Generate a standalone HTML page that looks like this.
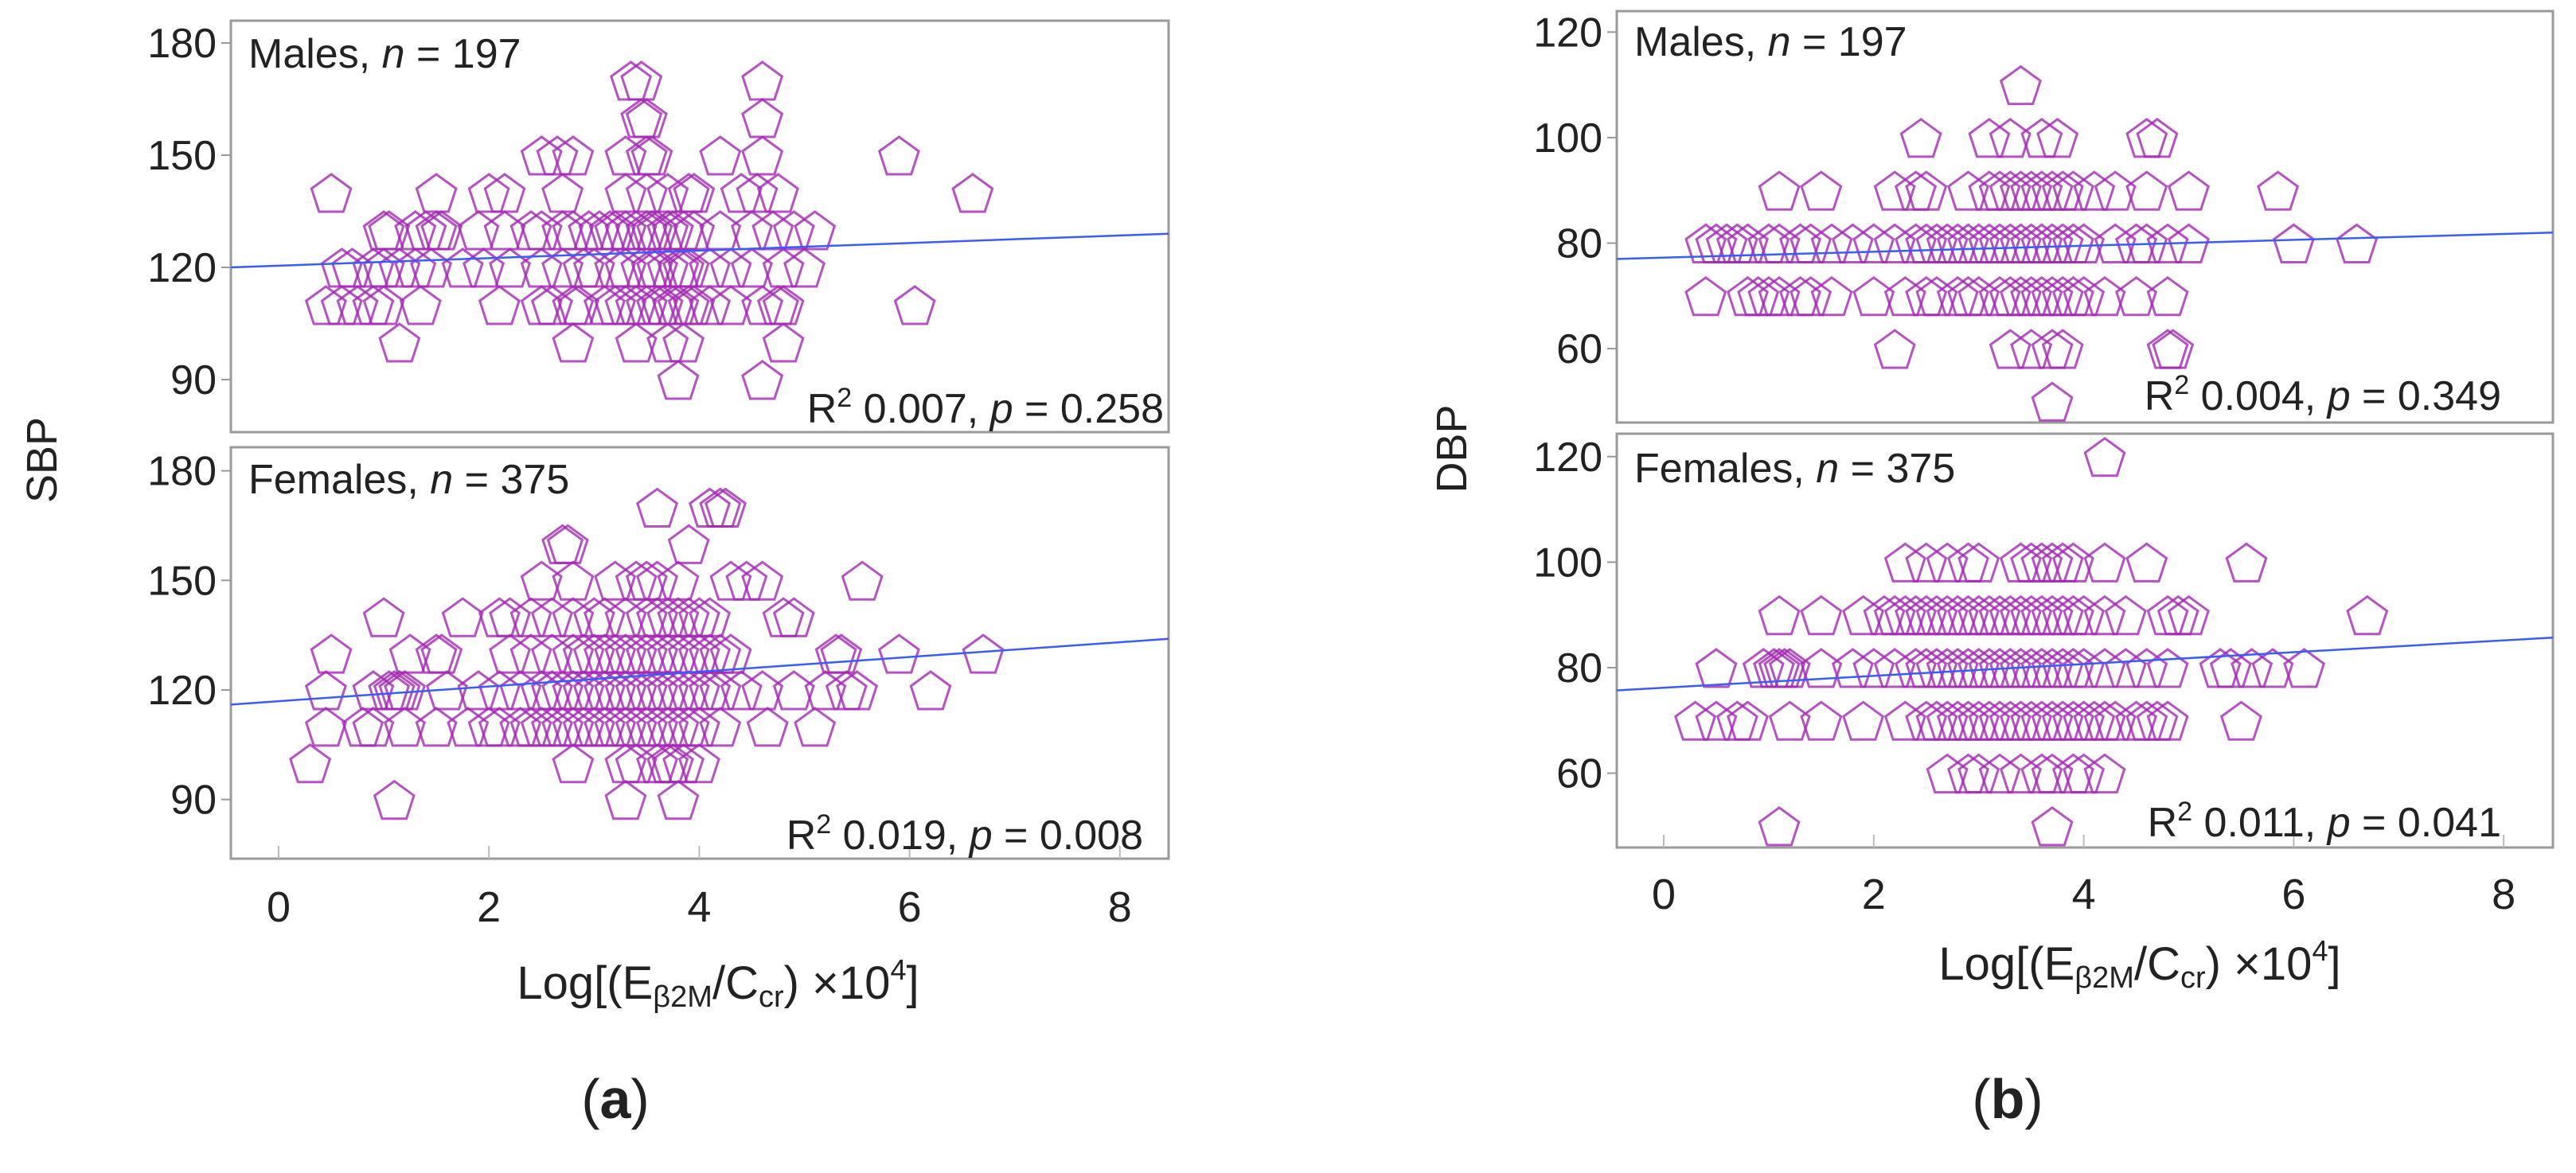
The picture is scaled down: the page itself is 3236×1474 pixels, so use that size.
<!DOCTYPE html>
<html><head><meta charset="utf-8"><style>
html,body{margin:0;padding:0;background:#fff;overflow:hidden}
svg{display:block}
text{font-family:"Liberation Sans",sans-serif;fill:#222}
</style></head><body>
<svg id="chart" width="3236" height="1474" viewBox="0 0 3236 1474" xmlns="http://www.w3.org/2000/svg"></svg>
<script>
const xTicks = [0, 2, 4, 6, 8];
const sbpTicks = [90, 120, 150, 180];
const dbpTicks = [60, 80, 100, 120];

const maleSbpLevels = [170,160,150,140,130,120,110,100,90];
const maleSbpX = [
 [3.35,3.45,4.6],
 [3.45,3.5,4.6],
 [2.5,2.65,2.8,3.3,3.5,3.55,4.2,4.6,5.9],
 [0.5,1.5,2.0,2.15,2.7,3.3,3.5,3.7,3.9,3.95,4.4,4.55,4.75,6.6],
 [1.0,1.05,1.3,1.4,1.5,1.55,1.9,2.15,2.4,2.5,2.7,2.8,2.95,3.05,3.15,3.2,3.3,3.4,3.5,3.55,3.6,3.7,3.75,3.85,3.95,4.2,4.5,4.7,4.9,5.1],
 [0.6,0.7,0.9,1.0,1.15,1.3,1.45,1.75,1.95,2.2,2.5,2.7,2.9,3.0,3.2,3.3,3.45,3.55,3.6,3.7,3.8,3.85,3.9,4.1,4.3,4.5,4.8,5.0],
 [0.45,0.6,0.75,0.9,1.0,1.35,2.1,2.5,2.6,2.8,2.85,3.1,3.2,3.3,3.4,3.5,3.6,3.65,3.75,3.8,3.9,3.95,4.1,4.3,4.6,4.75,4.8,6.05],
 [1.15,2.8,3.4,3.7,3.85,4.8],
 [3.8,4.6]
];
const femaleSbpLevels = [170,160,150,140,130,120,110,100,90];
const femaleSbpX = [
 [3.6,4.1,4.2,4.25],
 [2.7,2.75,3.9],
 [2.5,2.8,3.2,3.4,3.5,3.6,3.8,4.3,4.45,4.6,5.55],
 [1.0,1.75,2.1,2.2,2.4,2.6,2.8,3.0,3.1,3.3,3.5,3.6,3.7,3.8,3.9,4.0,4.1,4.8,4.9],
 [0.5,1.25,1.5,1.55,2.2,2.4,2.6,2.8,2.9,3.0,3.1,3.2,3.3,3.4,3.5,3.6,3.7,3.8,3.9,4.0,4.1,4.2,4.3,5.3,5.35,5.9,6.7],
 [0.45,0.9,1.05,1.1,1.15,1.2,1.6,1.9,2.1,2.3,2.5,2.6,2.7,2.8,2.9,3.0,3.1,3.2,3.3,3.4,3.5,3.6,3.7,3.8,3.9,4.0,4.1,4.2,4.4,4.6,4.9,5.2,5.4,5.5,6.2],
 [0.45,0.8,0.9,1.2,1.5,1.8,2.0,2.1,2.3,2.4,2.5,2.6,2.7,2.8,2.9,3.0,3.1,3.2,3.3,3.4,3.5,3.6,3.7,3.8,3.9,4.0,4.2,4.65,5.1],
 [0.3,2.8,3.3,3.4,3.6,3.7,3.75,3.85,4.0],
 [1.1,3.3,3.8]
];
const maleDbpLevels = [110,100,90,80,70,60,50];
const maleDbpX = [
 [3.4],
 [2.45,3.1,3.3,3.6,3.75,4.6,4.7],
 [1.1,1.5,2.2,2.4,2.5,2.9,3.1,3.2,3.3,3.4,3.5,3.6,3.7,3.8,3.9,4.1,4.3,4.6,5.0,5.85],
 [0.4,0.5,0.6,0.7,0.8,1.0,1.1,1.3,1.4,1.6,1.8,2.0,2.2,2.4,2.5,2.6,2.7,2.8,2.9,3.0,3.1,3.2,3.3,3.4,3.5,3.6,3.7,3.8,3.9,4.0,4.3,4.5,4.6,4.8,5.0,6.0,6.6],
 [0.4,0.8,0.9,1.0,1.1,1.3,1.4,1.6,2.0,2.3,2.5,2.6,2.8,2.9,3.0,3.2,3.3,3.4,3.5,3.6,3.7,3.8,3.9,4.0,4.2,4.5,4.8],
 [2.2,3.3,3.5,3.7,3.8,4.8,4.85],
 [3.7]
];
const femaleDbpLevels = [120,100,90,80,70,60,50];
const femaleDbpX = [
 [4.2],
 [2.3,2.5,2.7,2.9,3.0,3.4,3.5,3.6,3.7,3.8,3.9,4.2,4.6,5.55],
 [1.1,1.5,1.9,2.1,2.2,2.3,2.4,2.5,2.6,2.7,2.8,2.9,3.0,3.1,3.2,3.3,3.4,3.5,3.6,3.7,3.8,3.9,4.0,4.2,4.4,4.8,4.9,5.0,6.7],
 [0.5,0.95,1.05,1.1,1.15,1.2,1.5,1.8,2.0,2.2,2.4,2.5,2.6,2.7,2.8,2.9,3.0,3.1,3.2,3.3,3.4,3.5,3.6,3.7,3.8,3.9,4.0,4.2,4.4,4.6,4.8,5.3,5.4,5.6,5.8,6.1],
 [0.3,0.5,0.7,0.8,1.2,1.5,1.9,2.3,2.5,2.6,2.7,2.8,2.9,3.0,3.1,3.2,3.3,3.4,3.5,3.6,3.7,3.8,3.9,4.0,4.1,4.2,4.3,4.5,4.6,4.7,4.8,5.5],
 [2.7,2.9,3.0,3.2,3.4,3.6,3.7,3.9,4.0,4.2],
 [1.1,3.7]
];
// fit lines: value at x-domain left and right
const fitMaleSbp = [120, 129];
const fitFemaleSbp = [116, 134];
const fitMaleDbp = [77, 82];
const fitFemaleDbp = [75.7, 85.7];

const NS = "http://www.w3.org/2000/svg";
const svg = document.getElementById('chart');
function mk(tag, attrs, parent){const e=document.createElementNS(NS,tag);for(const k in attrs)e.setAttribute(k,attrs[k]);(parent||svg).appendChild(e);return e;}

function panel(cfg){
  const g = mk('g',{});
  
  
  const X = v => cfg.x0 + v * cfg.xu;
  const Y = v => cfg.yRef + (cfg.yRefVal - v) * cfg.yu;
  const fr = mk('rect',{x:cfg.left,y:cfg.top,width:cfg.right-cfg.left,height:cfg.bottom-cfg.top,fill:'#fff',stroke:'#9a9a9a','stroke-width':3},g);
  
  
  cfg.yTicks.forEach(t=>{
    const y=Y(t);
    mk('line',{x1:cfg.left-12,x2:cfg.left,y1:y,y2:y,stroke:'#999','stroke-width':2},g);
    const tx=mk('text',{x:cfg.left-18,y:y+18,'text-anchor':'end','font-size':52},g);
    tx.textContent=t;
    
    
  });
  if(cfg.bottomAxis){
    xTicks.forEach(t=>{
      const x=X(t);
      mk('line',{x1:x,x2:x,y1:cfg.bottom-16,y2:cfg.bottom,stroke:'#bbb','stroke-width':2},g);
    });
  }
  const pts = mk('g',{},g);
  
  
  const r=26;
  cfg.levels.forEach((lv,i)=>{
    cfg.xs[i].forEach(xv=>{
      const cx=X(xv), cy=Y(lv);
      let p=[];
      for(let k=0;k<5;k++){const a=-Math.PI/2+k*2*Math.PI/5;p.push((cx+r*Math.cos(a)).toFixed(1)+','+(cy+r*Math.sin(a)+3).toFixed(1));}
      const pg=mk('polygon',{points:p.join(' '),fill:'none',stroke:'#a428b4','stroke-width':3,'stroke-opacity':0.8},pts);
      
      
    });
  });
  const ln=mk('line',{x1:cfg.left,y1:Y(cfg.fit[0]),x2:cfg.right,y2:Y(cfg.fit[1]),stroke:'#3a5cff','stroke-width':2.5},g);
  
  
  const lab=mk('text',{x:cfg.left+22,y:cfg.labelY,'font-size':52},g);
  lab.innerHTML=cfg.label;
  
  
  const st=mk('text',{x:cfg.statX,y:cfg.statY,'text-anchor':'end','font-size':52},g);
  st.innerHTML=cfg.stat;
  
  
  return X;
}

function xAxis(X, base, titleX, titleY){
  xTicks.forEach(t=>{
    const tx=mk('text',{x:X(t),y:base,'text-anchor':'middle','font-size':54});
    tx.textContent=t;
    
    
  });
  const tt=mk('text',{x:titleX,y:titleY,'text-anchor':'middle','font-size':58});
  tt.innerHTML='Log[(E<tspan font-size="38" dy="10">β2M</tspan><tspan dy="-10">/C</tspan><tspan font-size="38" dy="10">cr</tspan><tspan dy="-10">) ×10</tspan><tspan font-size="36" dy="-24">4</tspan><tspan dy="24">]</tspan>';
  
  
}

// Panel (a)
const ax = {left:290,right:1468,x0:350,xu:132.1};
const Xa = panel(Object.assign({},ax,{name:'males-sbp',top:26,bottom:543,yRef:336,yRefVal:120,yu:4.70,yTicks:sbpTicks,levels:maleSbpLevels,xs:maleSbpX,fit:fitMaleSbp,labelY:85,label:'Males, <tspan font-style="italic">n</tspan> = 197',stat:'R<tspan font-size="34" dy="-20">2</tspan><tspan dy="20"> 0.007, </tspan><tspan font-style="italic">p</tspan> = 0.258',statX:1462,statY:531}));
panel(Object.assign({},ax,{name:'females-sbp',top:562,bottom:1079,yRef:867,yRefVal:120,yu:4.59,yTicks:sbpTicks,levels:femaleSbpLevels,xs:femaleSbpX,fit:fitFemaleSbp,labelY:620,label:'Females, <tspan font-style="italic">n</tspan> = 375',stat:'R<tspan font-size="34" dy="-20">2</tspan><tspan dy="20"> 0.019, </tspan><tspan font-style="italic">p</tspan> = 0.008',statX:1436,statY:1067,bottomAxis:true}));
xAxis(Xa, 1158, 902, 1255);

// Panel (b)
const bx = {left:2031,right:3207,x0:2090,xu:131.9};
panel(Object.assign({},bx,{name:'males-dbp',top:14,bottom:531,yRef:305.5,yRefVal:80,yu:6.63,yTicks:dbpTicks,levels:maleDbpLevels,xs:maleDbpX,fit:fitMaleDbp,labelY:70,label:'Males, <tspan font-style="italic">n</tspan> = 197',stat:'R<tspan font-size="34" dy="-20">2</tspan><tspan dy="20"> 0.004, </tspan><tspan font-style="italic">p</tspan> = 0.349',statX:3142,statY:515}));
const Xb = panel(Object.assign({},bx,{name:'females-dbp',top:545,bottom:1065,yRef:839,yRefVal:80,yu:6.63,yTicks:dbpTicks,levels:femaleDbpLevels,xs:femaleDbpX,fit:fitFemaleDbp,labelY:606,label:'Females, <tspan font-style="italic">n</tspan> = 375',stat:'R<tspan font-size="34" dy="-20">2</tspan><tspan dy="20"> 0.011, </tspan><tspan font-style="italic">p</tspan> = 0.041',statX:3142,statY:1051,bottomAxis:true}));
xAxis(Xb, 1142, 2688, 1231);

// y axis titles & panel letters
const ya=mk('text',{x:0,y:0,'text-anchor':'middle','font-size':54,transform:'translate(71,578) rotate(-90)'});
ya.textContent='SBP';


const yb=mk('text',{x:0,y:0,'text-anchor':'middle','font-size':54,transform:'translate(1842,564) rotate(-90)'});
yb.textContent='DBP';


const la=mk('text',{x:773,y:1405,'text-anchor':'middle','font-size':70,'font-family':'Liberation Serif, serif'});
la.innerHTML='(<tspan font-weight="bold">a</tspan>)';


const lb=mk('text',{x:2522,y:1405,'text-anchor':'middle','font-size':70,'font-family':'Liberation Serif, serif'});
lb.innerHTML='(<tspan font-weight="bold">b</tspan>)';


</script>
</body></html>
